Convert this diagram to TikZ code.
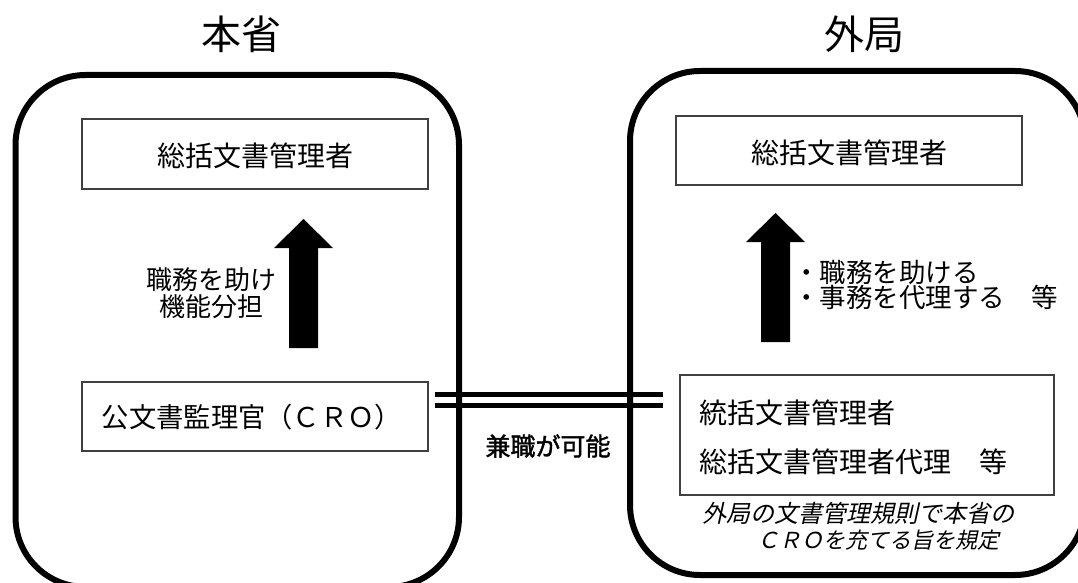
\documentclass[tikz,border=0pt]{standalone}
\usepackage{fontspec}
\setmainfont{Noto Sans CJK JP}
\newfontfamily\jp{Noto Sans CJK JP}
\newfontfamily\jpb{Noto Sans CJK JP}[FakeBold=1.6]
\newfontfamily\jpi{Noto Sans CJK JP}[FakeSlant=0.22]
\definecolor{boxline}{HTML}{404040}
\tikzset{
  container/.style={draw=black, line width=6pt, rounded corners=70pt, inner sep=0pt},
  innerbox/.style={draw=boxline, line width=1.2pt, inner sep=0pt},
  title/.style={font=\jp\fontsize{40}{44}\selectfont, inner sep=0pt},
  boxtext/.style={font=\jp\fontsize{28}{30}\selectfont, inner sep=0pt},
  blockarrow/.style={fill=black, draw=none},
  dblline/.style={line width=5.5pt, black},
}
\begin{document}
\begin{tikzpicture}[x=1pt,y=-1pt]
\useasboundingbox (0,0) rectangle (1078,583);
\begin{scope}
\clip (0,0) rectangle (1078,583);
% titles
\node[title] (t1) at (241,34) {本省};
\node[title] (t2) at (864,34) {外局};
% containers
\node[container, minimum width=443.5pt, minimum height=512pt] (lc) at (237.25,331) {};
\node[container, minimum width=455pt, minimum height=504pt] (rc) at (857.5,323) {};
% left inner boxes
\node[innerbox, minimum width=346pt, minimum height=70pt] (ltop) at (255,154) {};
\node[boxtext] (ltopt) at (255,156) {総括文書管理者};
\node[innerbox, minimum width=346pt, minimum height=69pt] (lbot) at (255,416.5) {};
\node[font=\jp\fontsize{27.3}{30}\selectfont, inner sep=0pt] (lbott) at (252,417) {公文書監理官（ＣＲＯ）};
% right inner boxes
\node[innerbox, minimum width=346pt, minimum height=69pt] (rtop) at (849,150.5) {};
\node[boxtext] (rtopt) at (849,153) {総括文書管理者};
\node[innerbox, minimum width=374pt, minimum height=120pt] (rbot) at (867,435) {};
\node[boxtext, anchor=west] (rbot1) at (699,413) {統括文書管理者};
\node[boxtext, anchor=west] (rbot2) at (699,462) {総括文書管理者代理　等};
% left block arrow
\fill[blockarrow] (289,348) -- (289,248) -- (274,248) -- (303.5,219) -- (333,248) -- (318,248) -- (318,348) -- cycle;
\node[font=\jp\fontsize{26}{27}\selectfont, align=center, inner sep=0pt] (llab) at (211,293) {職務を助け\\機能分担};
% right block arrow
\fill[blockarrow] (761,342) -- (761,242) -- (746,242) -- (775.5,213) -- (805,242) -- (790,242) -- (790,342) -- cycle;
\node[font=\jp\fontsize{26.5}{25}\selectfont, align=left, inner sep=0pt, anchor=west] (rlab) at (793,284.5) {・職務を助ける\\・事務を代理する　等};
% italic note
\node[font=\jpi\fontsize{24}{26}\selectfont, inner sep=0pt] (note1) at (858,513) {外局の文書管理規則で本省の};
\node[font=\jpi\fontsize{22}{26}\selectfont, inner sep=0pt] (note2) at (878,540) {ＣＲＯを充てる旨を規定};
% double line between the two CRO posts
\coordinate (d1a) at (435,394.5);
\coordinate (d1b) at (663,394.5);
\coordinate (d2a) at (435,405.5);
\coordinate (d2b) at (663,405.5);
\draw[dblline] (d1a) -- (d1b);
\draw[dblline] (d2a) -- (d2b);
\node[font=\jpb\fontsize{25}{27}\selectfont, inner sep=0pt] (ken) at (548,446) {兼職が可能};
\end{scope}
\end{tikzpicture}
\end{document}
